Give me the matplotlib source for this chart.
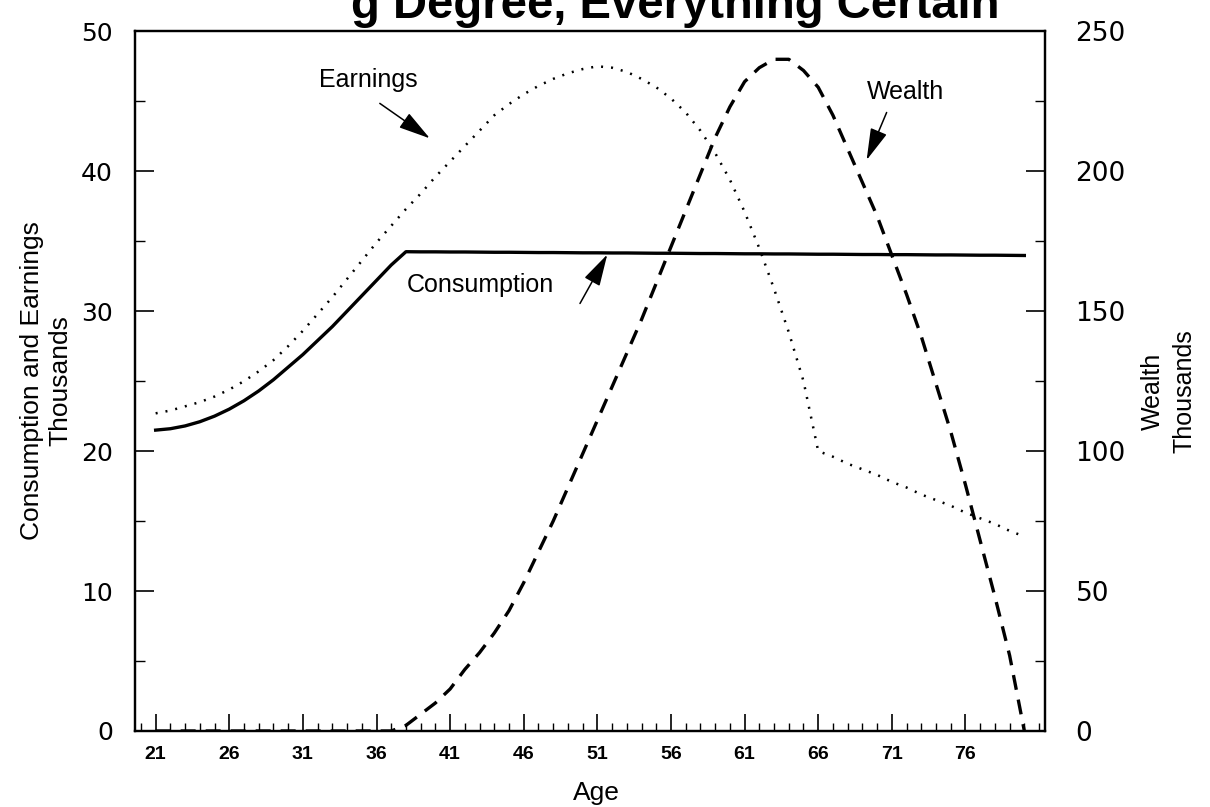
import numpy as np
import matplotlib.pyplot as plt
from matplotlib.ticker import MultipleLocator

plt.rcParams['font.family'] = ['Liberation Sans', 'DejaVu Sans']

ages = list(range(21, 81))

# thousands, left axis
earnings = [22.7, 22.9, 23.2, 23.5, 23.9, 24.4, 25.0, 25.7, 26.5, 27.5,
            28.6, 29.8, 31.0, 32.3, 33.6, 34.9, 36.1, 37.3, 38.4, 39.6,
            40.7, 41.8, 42.9, 44.0, 44.8, 45.5, 46.1, 46.6, 47.0, 47.3,
            47.5, 47.4, 47.1, 46.6, 46.0, 45.2, 44.2, 42.9, 41.3, 39.4,
            37.1, 34.5, 31.6, 28.5, 25.0, 20.0, 19.6, 19.1, 18.7, 18.3,
            17.8, 17.4, 16.9, 16.5, 16.1, 15.6, 15.2, 14.8, 14.3, 13.9]

consumption = [21.5, 21.6, 21.8, 22.1, 22.5, 23.0, 23.6, 24.3, 25.1, 26.0,
               26.9, 27.9, 28.9, 30.0, 31.1, 32.2, 33.3, 34.25, 34.24, 34.24,
               34.23, 34.23, 34.22, 34.21, 34.21, 34.2, 34.19, 34.19, 34.18, 34.17,
               34.17, 34.16, 34.16, 34.15, 34.14, 34.14, 34.13, 34.12, 34.12, 34.11,
               34.1, 34.1, 34.09, 34.09, 34.08, 34.07, 34.07, 34.06, 34.05, 34.05,
               34.04, 34.04, 34.03, 34.02, 34.02, 34.01, 34.0, 34.0, 33.99, 33.98]

# thousands, right axis
wealth = [0, 0, 0, 0, 0, 0, 0, 0, 0, 0,
          0, 0, 0, 0, 0, 0, 0, 2, 6, 10,
          15, 22, 28, 35, 43, 53, 64, 75, 87, 99,
          111, 123, 135, 147, 160, 173, 186, 199, 212, 223,
          232, 237, 240, 240, 236, 230, 220, 208, 196, 184,
          170, 156, 141, 124, 107, 88, 68, 48, 27, 0]

age_ticks = [21, 26, 31, 36, 41, 46, 51, 56, 61, 66, 71, 76]

# only the lower half of this line survives in the scan
title_visible = 'g Degree, Everything Certain'

fig = plt.figure(figsize=(12.1, 8.07), dpi=100)
ax = fig.add_axes([0.1116, 0.0942, 0.752, 0.867])
ax2 = ax.twinx()

ax.plot(ages, consumption, color='black', lw=2.4)
ax.plot(ages, earnings, color='black', lw=1.8, linestyle=(0, (0.8, 3.2)))
ax2.plot(ages, wealth, color='black', lw=2.4, linestyle=(0, (4.5, 3.0)))

ax.set_xlim(19.6, 81.4)
ax.set_ylim(0, 50)
ax2.set_ylim(0, 250)

ax.set_xticks(age_ticks)
ax.xaxis.set_minor_locator(MultipleLocator(1))
ax.yaxis.set_major_locator(MultipleLocator(10))
ax.yaxis.set_minor_locator(MultipleLocator(5))
ax2.yaxis.set_major_locator(MultipleLocator(50))
ax2.yaxis.set_minor_locator(MultipleLocator(25))

ax.tick_params(axis='x', which='major', direction='in', length=12, width=1.2,
               pad=11, labelsize=14, top=False)
ax.tick_params(axis='x', which='minor', direction='in', length=6, width=1.0, top=False)
for t in ax.get_xticklabels():
    t.set_fontweight('bold')
ax.tick_params(axis='y', which='major', direction='in', length=14, width=1.2,
               pad=16, labelsize=18)
ax.tick_params(axis='y', which='minor', direction='in', length=7, width=1.0)
ax2.tick_params(axis='y', which='major', direction='in', length=14, width=1.2,
                pad=22, labelsize=19)
ax2.tick_params(axis='y', which='minor', direction='in', length=7, width=1.0)
for t in ax.get_yticklabels() + ax2.get_yticklabels():
    t.set_fontfamily('DejaVu Sans')

for a in (ax, ax2):
    for s in a.spines.values():
        s.set_linewidth(1.6)

arrow = dict(arrowstyle='-|>,head_length=1.1,head_width=0.3', color='black',
             lw=1.1, mutation_scale=18, shrinkA=0, shrinkB=0)

ax.text(0.256, 0.93, 'Earnings', transform=ax.transAxes, ha='center',
        va='center', fontsize=18)
ax.annotate('', xy=(0.324, 0.847), xytext=(0.269, 0.897),
            xycoords='axes fraction', textcoords='axes fraction', arrowprops=arrow)

ax.text(0.847, 0.913, 'Wealth', transform=ax.transAxes, ha='center',
        va='center', fontsize=18)
ax.annotate('', xy=(0.804, 0.816), xytext=(0.826, 0.884),
            xycoords='axes fraction', textcoords='axes fraction', arrowprops=arrow)

ax.text(0.379, 0.637, 'Consumption', transform=ax.transAxes, ha='center',
        va='center', fontsize=18)
ax.annotate('', xy=(0.519, 0.681), xytext=(0.489, 0.611),
            xycoords='axes fraction', textcoords='axes fraction', arrowprops=arrow)

fig.text(0.038, 0.529, 'Consumption and Earnings\nThousands', rotation=90,
         ha='center', va='center', fontsize=19, linespacing=1.25)
fig.text(0.966, 0.515, 'Wealth\nThousands', rotation=90,
         ha='center', va='center', fontsize=18, linespacing=1.4)
fig.text(0.493, 0.017, 'Age', ha='center', va='center', fontsize=19)
fig.text(0.826, 0.978, title_visible, ha='right',
         va='baseline', fontsize=34, fontweight='bold')

fig.savefig('out.png', dpi=100)
